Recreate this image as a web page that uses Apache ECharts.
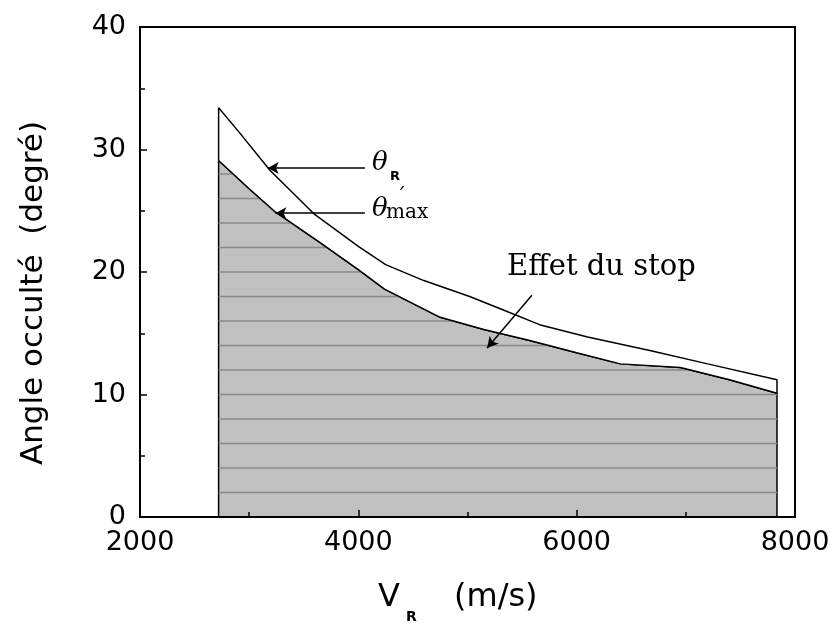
<!DOCTYPE html>
<html><head><meta charset="utf-8">
<script src="https://cdn.jsdelivr.net/npm/echarts@6/dist/echarts.min.js"></script>
<style>html,body{margin:0;padding:0;background:#fff}#c{width:834px;height:626px}</style>
</head><body><div id="c"></div>
<script>
// ---- data ----
const xTicks = [2000, 4000, 6000, 8000];
const yTicks = [0, 10, 20, 30, 40];
const vStart = 2720, vEnd = 7835;
// theta_R curve (upper)
const thetaR = [[2720,33.4],[2900,31.5],[3190,28.3],[3600,24.7],[4000,22.1],[4250,20.6],[4600,19.3],[5020,18.0],[5300,17.0],[5660,15.7],[6100,14.7],[6670,13.6],[7200,12.5],[7835,11.2]];
// theta'max curve (lower, shaded area)
const thetaMax = [[2720,29.1],[3000,26.8],[3240,24.9],[3650,22.4],[4000,20.2],[4240,18.6],[4750,16.3],[5150,15.3],[5570,14.4],[6000,13.4],[6400,12.5],[6950,12.2],[7400,11.2],[7835,10.1]];
// hatch levels inside shaded area
const hatchLevels = [2,4,6,8,10,12,14,16,18,20,22,24,26,28];
// annotation arrows [from, to]
const arrowR = [[4060,28.5],[3170,28.5]];
const arrowMax = [[4060,24.8],[3240,24.8]];
const arrowStop = [[5590,18.1],[5180,13.8]];

// ---- build ----
const chart = echarts.init(document.getElementById('c'));
const shaded = [[vStart,0]].concat(thetaMax, [[vEnd,0]]);
const upper = [[vStart, thetaMax[0][1]]].concat(thetaR, [[vEnd, thetaMax[thetaMax.length-1][1]]]);
const hatch = [];
hatchLevels.forEach(k => { hatch.push([vStart,k],[vEnd,k],'-'); });
const font = '"DejaVu Sans", sans-serif';
const tickFont = '"DejaVu Sans", sans-serif';
const serif = '"DejaVu Serif", serif';
function arrowLine(a){ return [{coord:a[0], symbol:'none'},{coord:a[1], symbol:'arrow'}]; }
const plain = v => String(v);

chart.setOption({
  animation:false,
  grid:{left:140, right:39, top:27, bottom:109},
  xAxis:[{type:'value', min:2000, max:8000, interval:2000, minorTick:{show:true, splitNumber:2, length:5, lineStyle:{color:'#000',width:1.5}},
    axisLine:{onZero:false, lineStyle:{color:'#000',width:2}}, axisTick:{inside:true,length:7,lineStyle:{color:'#000',width:1.5}},
    splitLine:{show:false}, axisLabel:{color:'#000', fontFamily:tickFont, fontSize:27, margin:12, formatter:plain}, z:10},
    {type:'value', position:'top', min:2000, max:8000, axisLine:{show:true,onZero:false,lineStyle:{color:'#000',width:2}}, axisTick:{show:false}, axisLabel:{show:false}, splitLine:{show:false}, z:10}],
  yAxis:[{type:'value', min:0, max:40, interval:10, minorTick:{show:true, splitNumber:2, length:5, lineStyle:{color:'#000',width:1.5}},
    axisLine:{show:true,onZero:false,lineStyle:{color:'#000',width:2}}, axisTick:{inside:true,length:7,lineStyle:{color:'#000',width:1.5}},
    splitLine:{show:false}, axisLabel:{color:'#000', fontFamily:tickFont, fontSize:27, margin:14, formatter:plain}, z:10},
    {type:'value', position:'right', min:0, max:40, axisLine:{show:true,onZero:false,lineStyle:{color:'#000',width:2}}, axisTick:{show:false}, axisLabel:{show:false}, splitLine:{show:false}, z:10}],
  series:[
    {type:'line', data:shaded, symbol:'none', z:1, lineStyle:{color:'#000',width:1.5}, areaStyle:{color:'#c0c0c0',opacity:1}},
    {type:'line', data:hatch, symbol:'none', z:2, connectNulls:false, lineStyle:{color:'#888',width:1.5}},
    {type:'line', data:thetaMax, symbol:'none', z:3, lineStyle:{color:'#000',width:1.5}, areaStyle:{color:'#fff',opacity:1,origin:'end'}},
    {type:'line', data:upper, symbol:'none', z:4, lineStyle:{color:'#000',width:1.5},
      markLine:{silent:true, symbolSize:[9,11], lineStyle:{color:'#000',width:1.5,type:'solid'}, label:{show:false},
        data:[arrowLine(arrowR), arrowLine(arrowMax), arrowLine(arrowStop)]}}
  ],
  graphic:[
    {type:'text', z:100, x:34, y:293, rotation:Math.PI/2, style:{text:'Angle occulté  (degré)', font:'31px '+font, fill:'#000', textAlign:'center', textVerticalAlign:'middle'}},
    {type:'text', z:100, x:378, y:582, style:{text:'V', font:'32px '+font, fill:'#000'}},
    {type:'text', z:100, x:406, y:610, style:{text:'R', font:'bold 14px '+font, fill:'#000'}},
    {type:'text', z:100, x:454, y:582, style:{text:'(m/s)', font:'32px '+font, fill:'#000'}},
    {type:'text', z:100, x:372, y:150, style:{text:'θ', font:'italic 26px '+serif, fill:'#000'}},
    {type:'text', z:100, x:390, y:170, style:{text:'R', font:'bold 13px '+font, fill:'#000'}},
    {type:'text', z:100, x:372, y:196, style:{text:'θ', font:'italic 26px '+serif, fill:'#000'}},
    {type:'text', z:100, x:396, y:188, style:{text:'´', font:'20px '+serif, fill:'#000'}},
    {type:'text', z:100, x:386, y:203, style:{text:'max', font:'20px '+serif, fill:'#000'}},
    {type:'text', z:100, x:507, y:253, style:{text:'Effet du stop', font:'29px '+serif, fill:'#000'}}
  ]
});
</script></body></html>
